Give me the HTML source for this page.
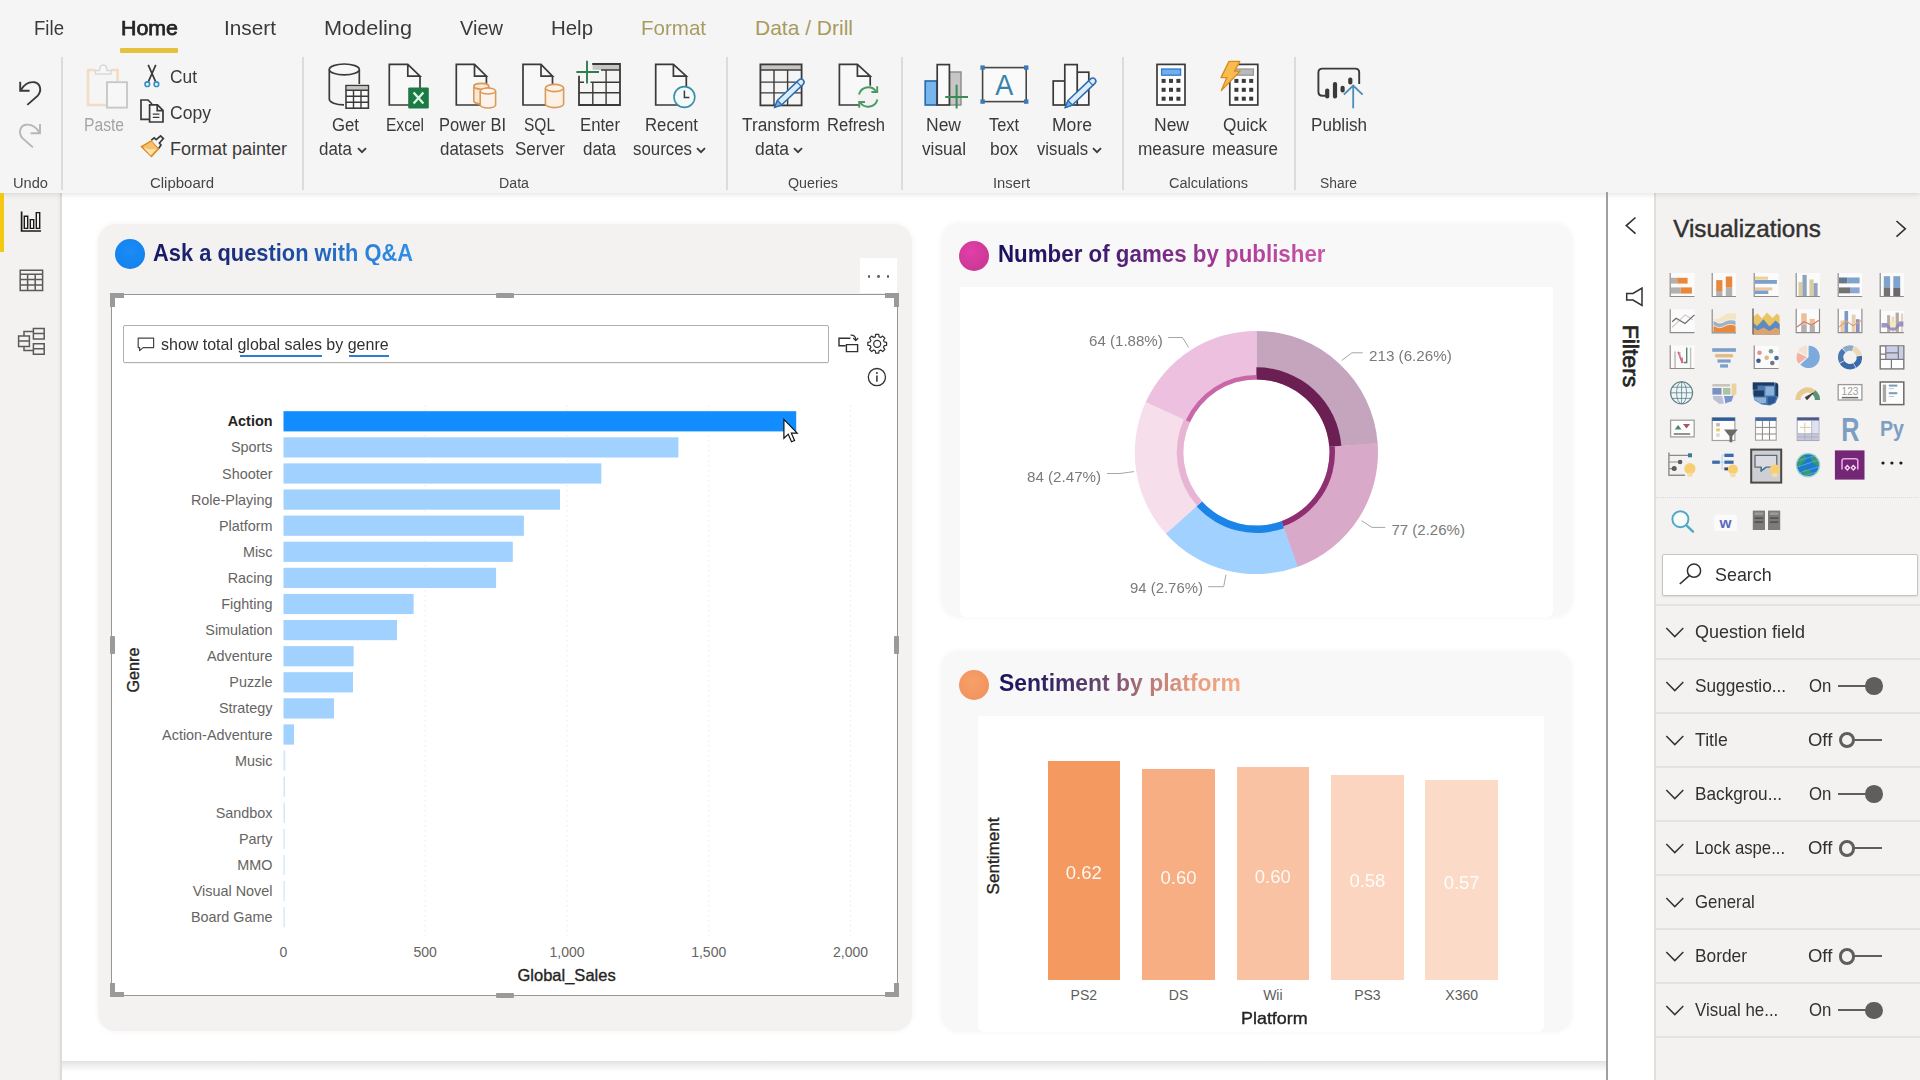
<!DOCTYPE html>
<html lang="en"><head><meta charset="utf-8"><title>Power BI Desktop</title>
<style>
html,body{margin:0;padding:0;}
body{width:1920px;height:1080px;position:relative;overflow:hidden;background:#f3f3f3;font-family:"Liberation Sans",sans-serif;}
body>div,body>svg,body>span{position:absolute;}
body>span{white-space:nowrap;line-height:1;transform-origin:0 0;}
svg{overflow:visible;}
</style></head>
<body>
<div style="left:0px;top:0px;width:1920px;height:1080px;background:#f3f3f3;"></div>
<div style="left:62px;top:193px;width:1545px;height:887px;background:#ffffff;"></div>
<div style="left:62px;top:1060.6px;width:1544px;height:11.6px;background:linear-gradient(180deg,#e1e1e1 0%,#ececec 30%,#f7f7f7 70%,#ffffff 100%);"></div>
<div style="left:0px;top:0px;width:1920px;height:193px;background:#f5f5f5;box-shadow:0 1px 6px rgba(0,0,0,0.13);z-index:5;"></div>
<div style="left:0px;top:193px;width:60.4px;height:887px;background:#f3f2f1;z-index:3;"></div>
<div style="left:57px;top:193px;width:3.4px;height:887px;background:linear-gradient(90deg,#f3f2f1,#ebeae9);z-index:3;"></div>
<div style="left:60.4px;top:193px;width:1.6px;height:887px;background:#dddcdb;z-index:3;"></div>
<div style="left:0px;top:193px;width:4px;height:59px;background:#f2c811;z-index:6;"></div>
<div style="left:120px;top:48px;width:58px;height:5px;background:#e6c23c;z-index:7;border-radius:1px;"></div>
<div style="left:61px;top:57px;width:1.5px;height:133px;background:#dcdcdc;z-index:7;"></div>
<div style="left:302px;top:57px;width:1.5px;height:133px;background:#dcdcdc;z-index:7;"></div>
<div style="left:726px;top:57px;width:1.5px;height:133px;background:#dcdcdc;z-index:7;"></div>
<div style="left:901px;top:57px;width:1.5px;height:133px;background:#dcdcdc;z-index:7;"></div>
<div style="left:1122px;top:57px;width:1.5px;height:133px;background:#dcdcdc;z-index:7;"></div>
<div style="left:1294px;top:57px;width:1.5px;height:133px;background:#dcdcdc;z-index:7;"></div>
<svg style="left:356.5px;top:146.5px;z-index:7;" width="10" height="7" viewBox="0 0 10 7"><path d="M1 1.2 L5 5.2 L9 1.2" fill="none" stroke="#3b3a39" stroke-width="1.8"/></svg>
<svg style="left:695.5px;top:146.5px;z-index:7;" width="10" height="7" viewBox="0 0 10 7"><path d="M1 1.2 L5 5.2 L9 1.2" fill="none" stroke="#3b3a39" stroke-width="1.8"/></svg>
<svg style="left:793px;top:146.5px;z-index:7;" width="10" height="7" viewBox="0 0 10 7"><path d="M1 1.2 L5 5.2 L9 1.2" fill="none" stroke="#3b3a39" stroke-width="1.8"/></svg>
<svg style="left:1092px;top:146.5px;z-index:7;" width="10" height="7" viewBox="0 0 10 7"><path d="M1 1.2 L5 5.2 L9 1.2" fill="none" stroke="#3b3a39" stroke-width="1.8"/></svg>
<div style="left:97.5px;top:224px;width:814px;height:807px;background:#f3f2f1;border-radius:18px;box-shadow:0 0 6px rgba(0,0,0,0.05);"></div>
<div style="left:941px;top:222.5px;width:632px;height:394px;background:#f8f8f8;border-radius:18px;box-shadow:0 0 6px rgba(0,0,0,0.04);"></div>
<div style="left:941px;top:650.5px;width:631px;height:381.5px;background:#f8f8f8;border-radius:18px;box-shadow:0 0 6px rgba(0,0,0,0.04);"></div>
<div style="left:959.5px;top:287px;width:593px;height:329.5px;background:#fff;border-radius:0 0 6px 6px;"></div>
<div style="left:977.5px;top:715.5px;width:566px;height:316.5px;background:#fff;border-radius:0 0 6px 6px;"></div>
<div style="left:114.5px;top:239.2px;width:30px;height:30px;border-radius:50%;background:radial-gradient(circle at 50% 40%,#1a8cf8,#117fe8);"></div>
<div style="left:959.2px;top:240.7px;width:30px;height:30px;border-radius:50%;background:radial-gradient(circle at 40% 35%,#e23fa8,#c2358f);"></div>
<div style="left:958.7px;top:669.5px;width:30px;height:30px;border-radius:50%;background:radial-gradient(circle at 45% 40%,#f9a06a,#ee8f58);"></div>
<div style="left:111.2px;top:294.2px;width:785px;height:699.5px;background:#fff;border:1.7px solid #969696;"></div>
<div style="left:110px;top:293px;width:14px;height:5px;background:#9a9a9a;"></div>
<div style="left:110px;top:293px;width:5px;height:14px;background:#9a9a9a;"></div>
<div style="left:885px;top:293px;width:14px;height:5px;background:#9a9a9a;"></div>
<div style="left:894px;top:293px;width:5px;height:14px;background:#9a9a9a;"></div>
<div style="left:110px;top:992px;width:14px;height:5px;background:#9a9a9a;"></div>
<div style="left:110px;top:983px;width:5px;height:14px;background:#9a9a9a;"></div>
<div style="left:885px;top:992px;width:14px;height:5px;background:#9a9a9a;"></div>
<div style="left:894px;top:983px;width:5px;height:14px;background:#9a9a9a;"></div>
<div style="left:495.5px;top:293px;width:18px;height:5px;background:#9a9a9a;border-radius:1px;"></div>
<div style="left:495.5px;top:992.5px;width:18px;height:5px;background:#9a9a9a;border-radius:1px;"></div>
<div style="left:109.5px;top:636px;width:5px;height:18px;background:#9a9a9a;border-radius:1px;"></div>
<div style="left:893.5px;top:636px;width:5px;height:18px;background:#9a9a9a;border-radius:1px;"></div>
<div style="left:860px;top:258.3px;width:36.6px;height:35px;background:#ffffff;"></div>
<div style="left:867.55px;top:274.75px;width:2.9px;height:2.9px;border-radius:50%;background:#605e5c;"></div>
<div style="left:877.05px;top:274.75px;width:2.9px;height:2.9px;border-radius:50%;background:#605e5c;"></div>
<div style="left:886.55px;top:274.75px;width:2.9px;height:2.9px;border-radius:50%;background:#605e5c;"></div>
<div style="left:122.5px;top:325px;width:704.5px;height:36px;background:#fff;border:1px solid #b3b0ad;border-radius:2px;box-shadow:0 1px 1px rgba(0,0,0,0.06);"></div>
<svg style="left:137px;top:337px;" width="18" height="15" viewBox="0 0 18 15"><path d="M1.2 1.2 H16.6 V10.6 H6.2 L2.6 13.6 V10.6 H1.2 Z" fill="none" stroke="#444" stroke-width="1.2" stroke-linejoin="round"/></svg>
<div style="left:239.5px;top:355.2px;width:82.5px;height:2.2px;background:#2b7cd3;"></div>
<div style="left:348.7px;top:355.2px;width:40px;height:2.2px;background:#2b7cd3;"></div>
<svg style="left:0px;top:0px;pointer-events:none;" width="1000" height="1000" viewBox="0 0 1000 1000"><line x1="425.2" y1="405" x2="425.2" y2="936" stroke="#e9e9e9" stroke-width="1" stroke-dasharray="1.5 3.5"/><line x1="567" y1="405" x2="567" y2="936" stroke="#e9e9e9" stroke-width="1" stroke-dasharray="1.5 3.5"/><line x1="708.7" y1="405" x2="708.7" y2="936" stroke="#e9e9e9" stroke-width="1" stroke-dasharray="1.5 3.5"/><line x1="850.5" y1="405" x2="850.5" y2="936" stroke="#e9e9e9" stroke-width="1" stroke-dasharray="1.5 3.5"/><rect x="283.5" y="411.2" width="512.7" height="20.2" fill="#118dff"/><rect x="283.5" y="437.3" width="394.9" height="20.2" fill="#a0d1ff"/><rect x="283.5" y="463.4" width="317.8" height="20.2" fill="#a0d1ff"/><rect x="283.5" y="489.5" width="276.5" height="20.2" fill="#a0d1ff"/><rect x="283.5" y="515.6" width="240.4" height="20.2" fill="#a0d1ff"/><rect x="283.5" y="541.7" width="229.3" height="20.2" fill="#a0d1ff"/><rect x="283.5" y="567.8" width="212.6" height="20.2" fill="#a0d1ff"/><rect x="283.5" y="593.9" width="130.1" height="20.2" fill="#a0d1ff"/><rect x="283.5" y="620.0" width="113.5" height="20.2" fill="#a0d1ff"/><rect x="283.5" y="646.1" width="70.1" height="20.2" fill="#a0d1ff"/><rect x="283.5" y="672.2" width="69.5" height="20.2" fill="#a0d1ff"/><rect x="283.5" y="698.3" width="50.5" height="20.2" fill="#a0d1ff"/><rect x="283.5" y="724.4" width="10.5" height="20.2" fill="#a0d1ff"/><rect x="283.5" y="750.5" width="1.8" height="20.2" fill="#cfe6fb"/><rect x="283.5" y="776.6" width="1.5" height="20.2" fill="#cfe6fb"/><rect x="283.5" y="802.7" width="1.4" height="20.2" fill="#cfe6fb"/><rect x="283.5" y="828.8" width="1.3" height="20.2" fill="#cfe6fb"/><rect x="283.5" y="854.9" width="1.3" height="20.2" fill="#cfe6fb"/><rect x="283.5" y="881.0" width="1.3" height="20.2" fill="#cfe6fb"/><rect x="283.5" y="907.1" width="1.3" height="20.2" fill="#cfe6fb"/></svg>
<svg style="left:0px;top:0px;z-index:7;" width="1920" height="193" viewBox="0 0 1920 193"><path d="M20.2 81.8 V90.8 H29.6 M20.6 90.4 C24 84.5 29.5 81.6 34.5 82.3 C40.5 83.6 42 90.5 37.8 95.6 L27.3 104.9" fill="none" stroke="#3b3a39" stroke-width="1.9" stroke-linejoin="miter"/><path d="M40 124 V133.3 H30.6 M39.6 132.9 C36.2 127 30.7 124.1 25.7 124.8 C19.7 126.1 18.2 133 22.4 138.1 L32.9 147.4" fill="none" stroke="#b8b6b4" stroke-width="1.9" /><path d="M95.5 70 H88 V105 H106" fill="none" stroke="#f3dcc4" stroke-width="2.6" /><path d="M111 70 H117.6 V81" fill="none" stroke="#f3dcc4" stroke-width="2.6" /><path d="M95.5 74 V70.5 H99.5 C99.5 66.5 101 65 103.3 65 C105.6 65 107 66.5 107 70.5 H111 V74 Z" fill="#f7f7f7" stroke="#d9d9d9" stroke-width="1.5" /><rect x="107" y="82.2" width="20" height="25.4" rx="0" fill="#f7f7f7" stroke="#c6c6c6" stroke-width="1.8"/><path d="M148.2 64.8 L155.6 81.6 M155.8 64.8 L148.4 81.6" fill="none" stroke="#3b3a39" stroke-width="1.7" /><circle cx="147.3" cy="84.2" r="2.3" fill="none" stroke="#2f8fc4" stroke-width="1.6"/><circle cx="156.4" cy="84.2" r="2.3" fill="none" stroke="#2f8fc4" stroke-width="1.6"/><path d="M149 119.3 H141 V100 H148 L152 104" fill="none" stroke="#3b3a39" stroke-width="1.7" /><path d="M149.6 104.8 H157.5 L163 110.3 V122 H149.6 Z M157.2 105 V110.6 H162.8" fill="#f6f6f6" stroke="#3b3a39" stroke-width="1.7" /><path d="M152.8 114.2 H159.4 M152.8 117.4 H159.4" fill="none" stroke="#3b3a39" stroke-width="1.3" /><path d="M141.5 146.6 L151.8 140.6 L158.6 148.8 L151.5 156.5 Z" fill="#f8c06a" stroke="#d98b1e" stroke-width="1.5" /><path d="M143.5 147.6 L150.5 155.2 L156.6 148.6 C152 150.5 148 149.5 143.5 147.6 Z" fill="#fbe3b8" stroke="none" stroke-width="0" /><path d="M151.4 140.2 L154.2 137.8 L156.2 139.6 L160.6 135.8 L163.4 138.6 L159.4 143 L161 145 L158.8 148.2" fill="#f6f6f6" stroke="#3b3a39" stroke-width="1.7" /><path d="M329.3 69.4 V99 C329.3 102.4 336 104.8 344 104.8 M359.3 69.4 V84" fill="none" stroke="#3b3a39" stroke-width="1.7" /><ellipse cx="344.3" cy="69.4" rx="15" ry="5.4" fill="#f7f7f7" stroke="#3b3a39" stroke-width="1.7"/><rect x="346" y="85.6" width="22.4" height="22.6" rx="0" fill="#fafafa" stroke="#3b3a39" stroke-width="1.6"/><rect x="346.8" y="86.4" width="20.8" height="3.4" fill="#c8c6c4"/><path d="M346 90.2 H368.4 M346 96.2 H368.4 M346 102.2 H368.4 M353.5 90.2 V108.2 M361 90.2 V108.2" fill="none" stroke="#3b3a39" stroke-width="1.4" /><path d="M420 76.2 V105 H389.3 V64.4 H407.8 L420 76.2 H407.8 V64.4" fill="#f8f8f8" stroke="#3b3a39" stroke-width="1.7" stroke-linejoin="miter"/><rect x="408.2" y="87.4" width="20.6" height="21" rx="1.2" fill="#1d7a45"/><path d="M413.6 92.6 L423.4 103.6 M423.4 92.6 L413.6 103.6" fill="none" stroke="#d9f7e6" stroke-width="2.3" /><path d="M486.4 76.2 V105 H456.3 V64.4 H474.5 L486.4 76.2 H474.5 V64.4" fill="#f8f8f8" stroke="#3b3a39" stroke-width="1.7" stroke-linejoin="miter"/><path d="M473.8 86.3 V101 A7.5 2.9 0 0 0 488.8 101 V86.3" fill="#fbe6d2" stroke="#d99a5b" stroke-width="1.6" /><ellipse cx="481.3" cy="86.3" rx="7.5" ry="2.9" fill="#fbe6d2" stroke="#d99a5b" stroke-width="1.6"/><path d="M480.2 91 V105 A7.700000000000017 3 0 0 0 495.6 105 V91" fill="#fdf3ea" stroke="#d99a5b" stroke-width="1.6" /><ellipse cx="487.9" cy="91" rx="7.700000000000017" ry="3" fill="#fdf3ea" stroke="#d99a5b" stroke-width="1.6"/><path d="M552.5 76.2 V105 H523 V64.4 H541 L552.5 76.2 H541 V64.4" fill="#f8f8f8" stroke="#3b3a39" stroke-width="1.7" stroke-linejoin="miter"/><path d="M545.4 88 V104 A9.100000000000023 3.6 0 0 0 563.6 104 V88" fill="#fdf1e6" stroke="#d99a5b" stroke-width="1.6" /><ellipse cx="554.5" cy="88" rx="9.100000000000023" ry="3.6" fill="#fdf1e6" stroke="#d99a5b" stroke-width="1.6"/><rect x="592.6" y="64.6" width="26.8" height="5.2" fill="#c8c6c4"/><path d="M592.2 64 H620 V105 H579 V75.8" fill="none" stroke="#3b3a39" stroke-width="1.8" /><path d="M601 70 H620" fill="none" stroke="#3b3a39" stroke-width="1.5" /><path d="M579 82.2 H584 M590.5 82.2 H620 M579 92.8 H620 M592.8 82.2 V105 M606.1 70 V105" fill="none" stroke="#3b3a39" stroke-width="1.4" /><path d="M587 60.8 V83.4 M576.4 72 H599" fill="none" stroke="#2e7d4f" stroke-width="1.9" /><path d="M686.3 76.2 V105 H655.7 V64.4 H673.4 L686.3 76.2 H673.4 V64.4" fill="#f8f8f8" stroke="#3b3a39" stroke-width="1.7" stroke-linejoin="miter"/><circle cx="684.4" cy="97" r="10.4" fill="#f4fafc" stroke="#3a8fa8" stroke-width="1.6"/><path d="M684.4 90.4 V97.6 H689.4" fill="none" stroke="#3b3a39" stroke-width="1.5" /><rect x="761" y="65" width="40" height="4.6" fill="#c8c6c4"/><rect x="760.4" y="64.4" width="41.2" height="41" rx="0" fill="none" stroke="#3b3a39" stroke-width="1.8"/><path d="M760.4 70 H801.6 M760.4 82.1 H801.6 M760.4 92.9 H801.6 M774 70 V105.4 M787.6 70 V105.4" fill="none" stroke="#3b3a39" stroke-width="1.4" /><path d="M774.6 107.4 L781.8 104.8 L802.9 84.6 Q805.3 82.3 803.2 80.0 Q801.0 77.8 798.7 80.1 L777.5 100.3 Z" fill="#dcecfb" stroke="#2b6cb0" stroke-width="1.5" stroke-linejoin="round"/><path d="M774.6 107.4 L781.8 104.8 L777.5 100.3 Z" fill="#6fb1ee" stroke="#2b6cb0" stroke-width="1.2" /><path d="M801.1 86.3 L796.8 81.8" fill="none" stroke="#2b6cb0" stroke-width="1.2" /><path d="M870.2 76.2 V105 H839.4 V64.4 H857.4 L870.2 76.2 H857.4 V64.4" fill="#f8f8f8" stroke="#3b3a39" stroke-width="1.7" stroke-linejoin="miter"/><circle cx="868.2" cy="97" r="11.6" fill="#f3f3f3" stroke="none"/><path d="M859 94.6 A9.6 9.6 0 0 1 876 91.2 M877.4 99.4 A9.6 9.6 0 0 1 860.4 102.8" fill="none" stroke="#4a9a64" stroke-width="1.9" /><path d="M877.2 86.2 V92 H871.4 M859.2 107.8 V102 H865" fill="none" stroke="#4a9a64" stroke-width="1.9" /><rect x="925.2" y="81" width="11.6" height="24" rx="0" fill="#7ab6ee" stroke="#2b6cb0" stroke-width="1.7"/><rect x="949.6" y="72" width="11.4" height="33" rx="0" fill="#c6c6c6" stroke="#8a8a8a" stroke-width="1.4"/><rect x="937.2" y="64.6" width="12.2" height="40.4" rx="0" fill="#fafafa" stroke="#3b3a39" stroke-width="1.7"/><path d="M956.6 84.8 V108.6 M945.2 97 H968" fill="none" stroke="#3c8a54" stroke-width="2" /><rect x="982.6" y="67.6" width="43.6" height="34" rx="0" fill="#fafafa" stroke="#484644" stroke-width="1.6"/><rect x="980.4" y="65.39999999999999" width="4.4" height="4.4" fill="#3b79b7"/><rect x="1024.0" y="65.39999999999999" width="4.4" height="4.4" fill="#3b79b7"/><rect x="980.4" y="99.39999999999999" width="4.4" height="4.4" fill="#3b79b7"/><rect x="1024.0" y="99.39999999999999" width="4.4" height="4.4" fill="#3b79b7"/><text x="1004.2" y="94.6" text-anchor="middle" font-family="Liberation Sans, sans-serif" font-size="29" fill="#3a82aa" textLength="18" lengthAdjust="spacingAndGlyphs">A</text><rect x="1053.2" y="81" width="11.6" height="24" rx="0" fill="#fafafa" stroke="#3b3a39" stroke-width="1.7"/><rect x="1077.2" y="72.2" width="11.6" height="32.8" rx="0" fill="#fafafa" stroke="#3b3a39" stroke-width="1.7"/><rect x="1064.8" y="64.6" width="12.4" height="40.4" rx="0" fill="#fafafa" stroke="#3b3a39" stroke-width="1.7"/><path d="M1065.2 107.6 L1072.4 105.0 L1094.7 83.6 Q1097.1 81.3 1095.0 79.0 Q1092.8 76.8 1090.4 79.1 L1068.1 100.5 Z" fill="#dcecfb" stroke="#2b6cb0" stroke-width="1.5" stroke-linejoin="round"/><path d="M1065.2 107.6 L1072.4 105.0 L1068.1 100.5 Z" fill="#6fb1ee" stroke="#2b6cb0" stroke-width="1.2" /><path d="M1092.9 85.3 L1088.6 80.8" fill="none" stroke="#2b6cb0" stroke-width="1.2" /><rect x="1157" y="64.4" width="28" height="40.6" rx="0" fill="#fdfdfd" stroke="#3b3a39" stroke-width="1.7"/><rect x="1161.6" y="69" width="19" height="6.2" rx="0" fill="#74aeea" stroke="#2b7cd3" stroke-width="1.3"/><rect x="1161.6" y="78.9" width="4" height="4" fill="#3b3a39"/><rect x="1161.6" y="87.8" width="4" height="4" fill="#3b3a39"/><rect x="1161.6" y="96.7" width="4" height="4" fill="#3b3a39"/><rect x="1169" y="78.9" width="4" height="4" fill="#3b3a39"/><rect x="1169" y="87.8" width="4" height="4" fill="#3b3a39"/><rect x="1169" y="96.7" width="4" height="4" fill="#3b3a39"/><rect x="1176.4" y="78.9" width="4" height="4" fill="#3b3a39"/><rect x="1176.4" y="87.8" width="4" height="4" fill="#3b3a39"/><rect x="1176.4" y="96.7" width="4" height="4" fill="#3b3a39"/><rect x="1229.8" y="64.4" width="28" height="40.6" rx="0" fill="#fdfdfd" stroke="#3b3a39" stroke-width="1.7"/><rect x="1234.3999999999999" y="69" width="19" height="6.2" rx="0" fill="#b9b9b9" stroke="#9a9a9a" stroke-width="1.3"/><rect x="1234.3999999999999" y="78.9" width="4" height="4" fill="#3b3a39"/><rect x="1234.3999999999999" y="87.8" width="4" height="4" fill="#3b3a39"/><rect x="1234.3999999999999" y="96.7" width="4" height="4" fill="#3b3a39"/><rect x="1241.8" y="78.9" width="4" height="4" fill="#3b3a39"/><rect x="1241.8" y="87.8" width="4" height="4" fill="#3b3a39"/><rect x="1241.8" y="96.7" width="4" height="4" fill="#3b3a39"/><rect x="1249.2" y="78.9" width="4" height="4" fill="#3b3a39"/><rect x="1249.2" y="87.8" width="4" height="4" fill="#3b3a39"/><rect x="1249.2" y="96.7" width="4" height="4" fill="#3b3a39"/><path d="M1229 61.4 H1239.8 L1234.5 71.2 H1240 L1221.3 90.6 L1226.9 77.6 H1221 Z" fill="#f8bc4e" stroke="#d98b1e" stroke-width="1.3" stroke-linejoin="round"/><path d="M1325.4 95.8 H1322.4 Q1318.4 95.8 1318.4 91.8 V72.6 Q1318.4 68.6 1322.4 68.6 H1355.2 Q1359.2 68.6 1359.2 72.6 V84" fill="none" stroke="#3b3a39" stroke-width="1.9" /><rect x="1325.1000000000001" y="88.4" width="4.2" height="10.199999999999989" rx="2" fill="#3b3a39"/><rect x="1332.9" y="82" width="4.2" height="16.599999999999994" rx="2" fill="#3b3a39"/><rect x="1340.5" y="85.8" width="4.2" height="6.799999999999997" rx="2" fill="#3b3a39"/><rect x="1348.2" y="77.6" width="4.2" height="7.0" rx="2" fill="#3b3a39"/><path d="M1353.2 86.4 V108.2 M1343.8 94.6 L1353.2 85.6 L1362.6 94.6" fill="none" stroke="#4a8cba" stroke-width="1.8" /></svg>
<svg style="left:0px;top:0px;pointer-events:none;" width="1920" height="1080" viewBox="0 0 1920 1080"><path d="M1256.40 330.90 A121.6 121.6 0 0 1 1377.67 443.49 L1329.30 447.08 A73.1 73.1 0 0 0 1256.40 379.40 Z" fill="#c5a4bd"/><path d="M1377.63 442.96 A121.6 121.6 0 0 1 1297.49 566.95 L1281.10 521.30 A73.1 73.1 0 0 0 1329.27 446.76 Z" fill="#d9a9c9"/><path d="M1297.99 566.77 A121.6 121.6 0 0 1 1165.68 533.47 L1201.86 501.18 A73.1 73.1 0 0 0 1281.40 521.19 Z" fill="#a0d1ff"/><path d="M1166.03 533.87 A121.6 121.6 0 0 1 1145.97 401.59 L1190.01 421.90 A73.1 73.1 0 0 0 1202.08 501.41 Z" fill="#f6deeb"/><path d="M1145.75 402.07 A121.6 121.6 0 0 1 1256.40 330.90 L1256.40 379.40 A73.1 73.1 0 0 0 1189.88 422.19 Z" fill="#ecc0de"/><path d="M1256.40 367.30 A85.2 85.2 0 0 1 1341.34 445.82 L1329.27 446.76 A73.1 73.1 0 0 0 1256.40 379.40 Z" fill="#6b1f52"/><path d="M1334.76 446.33 A78.6 78.6 0 0 1 1283.28 526.36 L1281.40 521.19 A73.1 73.1 0 0 0 1329.27 446.76 Z" fill="#8f2f72"/><path d="M1283.93 528.15 A80.5 80.5 0 0 1 1196.58 506.37 L1202.08 501.41 A73.1 73.1 0 0 0 1281.40 521.19 Z" fill="#1a84e8"/><path d="M1197.17 505.83 A79.7 79.7 0 0 1 1183.88 419.45 L1189.88 422.19 A73.1 73.1 0 0 0 1202.08 501.41 Z" fill="#e8b4d4"/><path d="M1185.79 420.32 A77.6 77.6 0 0 1 1256.40 374.90 L1256.40 379.40 A73.1 73.1 0 0 0 1189.88 422.19 Z" fill="#c968a8"/><polyline points="1168,337.5 1182.5,337.5 1188.7,347.5" fill="none" stroke="#a6a6a6" stroke-width="1"/><polyline points="1341.7,360.5 1351.9,352.8 1362.8,352.8" fill="none" stroke="#a6a6a6" stroke-width="1"/><polyline points="1361.5,520.7 1371.9,527.4 1385.2,527.4" fill="none" stroke="#a6a6a6" stroke-width="1"/><polyline points="1208.1,586.7 1223.7,586.7 1225.9,574.8" fill="none" stroke="#a6a6a6" stroke-width="1"/><polyline points="1107,473.5 1120,473.5 1134,471.6" fill="none" stroke="#a6a6a6" stroke-width="1"/></svg>
<div style="left:1047.7px;top:760.5px;width:72.3px;height:219.7px;background:#f4995f;"></div>
<div style="left:1142.2px;top:768.7px;width:72.8px;height:211.5px;background:#f7ae82;"></div>
<div style="left:1236.7px;top:767px;width:72.3px;height:213.2px;background:#f9c2a2;"></div>
<div style="left:1331.2px;top:774.8px;width:72.4px;height:205.4px;background:#fbd5bf;"></div>
<div style="left:1425.3px;top:779.7px;width:72.7px;height:200.5px;background:#fbdac8;"></div>
<div style="left:1607.5px;top:193px;width:47px;height:887px;background:#ffffff;"></div>
<div style="left:1606.2px;top:192px;width:1.7px;height:888px;background:#a19f9d;z-index:6;"></div>
<div style="left:1654.5px;top:193px;width:265.5px;height:887px;background:#f3f2f1;"></div>
<div style="left:1654.2px;top:193px;width:1.7px;height:887px;background:#e1dfdd;"></div>
<svg style="left:1620px;top:212px;" width="24" height="28" viewBox="0 0 24 28"><path d="M15.5 5.5 L6.3 13.6 L15.5 21.7" fill="none" stroke="#323130" stroke-width="1.6"/></svg>
<svg style="left:1890px;top:214px;" width="24" height="28" viewBox="0 0 24 28"><path d="M6.5 7 L15.3 14.8 L6.5 22.6" fill="none" stroke="#323130" stroke-width="1.6"/></svg>
<svg style="left:1622px;top:284px;" width="26" height="26" viewBox="0 0 26 26"><path d="M20 4 V21.5 L11 16 H4.7 V9.5 H11 Z" fill="none" stroke="#323130" stroke-width="1.5" stroke-linejoin="miter"/></svg>
<div style="left:1656px;top:497.3px;width:262px;height:0;border-top:1.6px dotted #dcdad8;"></div>
<div style="left:1661.5px;top:553.7px;width:256px;height:42px;background:#fff;border:1px solid #c8c6c4;box-sizing:border-box;border-radius:2px;box-shadow:0 1px 2px rgba(0,0,0,0.10);"></div>
<svg style="left:1676px;top:560px;" width="26" height="28" viewBox="0 0 26 28"><circle cx="18" cy="10.7" r="6.6" fill="none" stroke="#323130" stroke-width="1.5"/><path d="M13.3 15.6 L3.8 24" stroke="#323130" stroke-width="1.6" fill="none"/></svg>
<div style="left:1656px;top:603.6px;width:264px;height:2.2px;background:#e5e3e1;"></div>
<div style="left:1656px;top:657.6px;width:264px;height:2.2px;background:#e5e3e1;"></div>
<div style="left:1656px;top:711.6px;width:264px;height:2.2px;background:#e5e3e1;"></div>
<div style="left:1656px;top:765.6px;width:264px;height:2.2px;background:#e5e3e1;"></div>
<div style="left:1656px;top:819.6px;width:264px;height:2.2px;background:#e5e3e1;"></div>
<div style="left:1656px;top:873.6px;width:264px;height:2.2px;background:#e5e3e1;"></div>
<div style="left:1656px;top:927.6px;width:264px;height:2.2px;background:#e5e3e1;"></div>
<div style="left:1656px;top:981.6px;width:264px;height:2.2px;background:#e5e3e1;"></div>
<div style="left:1656px;top:1035.6px;width:264px;height:2.2px;background:#e5e3e1;"></div>
<svg style="left:1664px;top:624.0px;" width="22" height="16" viewBox="0 0 22 16"><path d="M2.3 4 L10.8 12.6 L19.3 4" fill="none" stroke="#323130" stroke-width="1.45"/></svg>
<svg style="left:1664px;top:678.05px;" width="22" height="16" viewBox="0 0 22 16"><path d="M2.3 4 L10.8 12.6 L19.3 4" fill="none" stroke="#323130" stroke-width="1.45"/></svg>
<div style="left:1838.4px;top:684.9499999999999px;width:30px;height:2.2px;background:#605e5c;"></div>
<div style="left:1865.0px;top:677.25px;width:17.6px;height:17.6px;border-radius:50%;background:#605e5c;"></div>
<svg style="left:1664px;top:732.1px;" width="22" height="16" viewBox="0 0 22 16"><path d="M2.3 4 L10.8 12.6 L19.3 4" fill="none" stroke="#323130" stroke-width="1.45"/></svg>
<div style="left:1854px;top:739.0px;width:28.4px;height:2.2px;background:#605e5c;"></div>
<div style="left:1838.5px;top:731.7px;width:16.8px;height:16.8px;box-sizing:border-box;border-radius:50%;border:3px solid #605e5c;"></div>
<svg style="left:1664px;top:786.15px;" width="22" height="16" viewBox="0 0 22 16"><path d="M2.3 4 L10.8 12.6 L19.3 4" fill="none" stroke="#323130" stroke-width="1.45"/></svg>
<div style="left:1838.4px;top:793.05px;width:30px;height:2.2px;background:#605e5c;"></div>
<div style="left:1865.0px;top:785.35px;width:17.6px;height:17.6px;border-radius:50%;background:#605e5c;"></div>
<svg style="left:1664px;top:840.2px;" width="22" height="16" viewBox="0 0 22 16"><path d="M2.3 4 L10.8 12.6 L19.3 4" fill="none" stroke="#323130" stroke-width="1.45"/></svg>
<div style="left:1854px;top:847.1px;width:28.4px;height:2.2px;background:#605e5c;"></div>
<div style="left:1838.5px;top:839.8000000000001px;width:16.8px;height:16.8px;box-sizing:border-box;border-radius:50%;border:3px solid #605e5c;"></div>
<svg style="left:1664px;top:894.25px;" width="22" height="16" viewBox="0 0 22 16"><path d="M2.3 4 L10.8 12.6 L19.3 4" fill="none" stroke="#323130" stroke-width="1.45"/></svg>
<svg style="left:1664px;top:948.3px;" width="22" height="16" viewBox="0 0 22 16"><path d="M2.3 4 L10.8 12.6 L19.3 4" fill="none" stroke="#323130" stroke-width="1.45"/></svg>
<div style="left:1854px;top:955.1999999999999px;width:28.4px;height:2.2px;background:#605e5c;"></div>
<div style="left:1838.5px;top:947.9px;width:16.8px;height:16.8px;box-sizing:border-box;border-radius:50%;border:3px solid #605e5c;"></div>
<svg style="left:1664px;top:1002.3499999999999px;" width="22" height="16" viewBox="0 0 22 16"><path d="M2.3 4 L10.8 12.6 L19.3 4" fill="none" stroke="#323130" stroke-width="1.45"/></svg>
<div style="left:1838.4px;top:1009.2499999999999px;width:30px;height:2.2px;background:#605e5c;"></div>
<div style="left:1865.0px;top:1001.55px;width:17.6px;height:17.6px;border-radius:50%;background:#605e5c;"></div>
<svg style="left:0px;top:193px;z-index:6;" width="62" height="200" viewBox="0 193 62 200"><path d="M21.6 211.6 V231 H41" fill="none" stroke="#1b1a19" stroke-width="1.7" /><path d="M24.3 228.4 V216.2 H27.7 V228.4 Z" fill="none" stroke="#1b1a19" stroke-width="1.4" /><path d="M30.3 228.4 V219.6 H33.7 V228.4 Z" fill="none" stroke="#1b1a19" stroke-width="1.4" /><path d="M36.3 228.4 V212.6 H39.699999999999996 V228.4 Z" fill="none" stroke="#1b1a19" stroke-width="1.4" /><path d="M20.2 270.2 H42.6 V290.6 H20.2 Z M20.2 274.2 H42.6 M20.2 279.6 H42.6 M20.2 285 H42.6 M27.6 274.2 V290.6 M35.2 274.2 V290.6" fill="none" stroke="#5c5a58" stroke-width="1.5" /><path d="M18.6 336 H29.4 V346.4 H18.6 Z M18.6 341 H29.4 M33.4 328.6 H44.2 V339 H33.4 Z M33.4 333.6 H44.2 M33.4 343.8 H44.2 V354.2 H33.4 Z M33.4 348.8 H44.2 M24 336 V331.6 H33.4 M24 346.4 V350.6 H33.4" fill="none" stroke="#5c5a58" stroke-width="1.5" /></svg>
<svg style="left:0px;top:0px;" width="1000" height="500" viewBox="0 0 1000 500"><path d="M850.4 338.2 H839 V345.8 H845.6" fill="none" stroke="#323130" stroke-width="1.4" /><path d="M846.4 344.6 H857.6 V351.6 H846.4 Z" fill="none" stroke="#323130" stroke-width="1.4" /><path d="M850.6 335.2 C854 335 855.8 336.6 855.8 340 M853.2 338 L855.8 340.6 L858.2 338" fill="none" stroke="#323130" stroke-width="1.2" /><path d="M875.28 336.86 L875.69 334.42 L878.71 334.42 L879.12 336.86 L880.75 337.54 L882.76 336.10 L884.90 338.24 L883.46 340.25 L884.14 341.88 L886.58 342.29 L886.58 345.31 L884.14 345.72 L883.46 347.35 L884.90 349.36 L882.76 351.50 L880.75 350.06 L879.12 350.74 L878.71 353.18 L875.69 353.18 L875.28 350.74 L873.65 350.06 L871.64 351.50 L869.50 349.36 L870.94 347.35 L870.26 345.72 L867.82 345.31 L867.82 342.29 L870.26 341.88 L870.94 340.25 L869.50 338.24 L871.64 336.10 L873.65 337.54 Z" fill="none" stroke="#323130" stroke-width="1.25" stroke-linejoin="round"/><circle cx="877.2" cy="343.8" r="3.5" fill="none" stroke="#323130" stroke-width="1.25"/><circle cx="876.9" cy="377.1" r="8.6" fill="none" stroke="#323130" stroke-width="1.3"/><path d="M876.9 375.6 V381.8" fill="none" stroke="#323130" stroke-width="1.5" /><circle cx="876.9" cy="373" r="0.95" fill="#323130"/></svg>
<svg style="left:0px;top:0px;z-index:4;" width="1000" height="500" viewBox="0 0 1000 500"><path d="M783.90 419.40 L783.90 438.27 L788.23 434.16 L791.56 441.82 L794.56 440.49 L791.34 433.16 L797.22 433.16 Z" fill="#fff" stroke="#111" stroke-width="1.2" stroke-linejoin="miter"/></svg>
<svg style="left:0px;top:0px;pointer-events:none;" width="1920" height="1080" viewBox="0 0 1920 1080"><rect x="1671.0" y="273.0" width="23.5" height="23.0" rx="0" fill="#fbfbfb" stroke="none" stroke-width="0" /><rect x="1671.0" y="277.8" width="6.2" height="5.8" rx="0" fill="#b3b1af" stroke="none" stroke-width="0" /><rect x="1677.2" y="277.8" width="10.4" height="5.8" rx="0" fill="#e8883c" stroke="none" stroke-width="0" /><rect x="1671.0" y="287.4" width="9.8" height="6.2" rx="0" fill="#b3b1af" stroke="none" stroke-width="0" /><rect x="1680.8" y="287.4" width="11.1" height="6.2" rx="0" fill="#e8883c" stroke="none" stroke-width="0" /><path d="M1670.2 272.9 V296.5 H1694.5" fill="none" stroke="#8d8b89" stroke-width="1.15" /><rect x="1713.0" y="273.0" width="23.0" height="23.0" rx="0" fill="#fbfbfb" stroke="none" stroke-width="0" /><rect x="1716.2" y="280.1" width="6.2" height="10.9" rx="0" fill="#e8883c" stroke="none" stroke-width="0" /><rect x="1716.2" y="291.0" width="6.2" height="5.0" rx="0" fill="#b3b1af" stroke="none" stroke-width="0" /><rect x="1725.8" y="276.5" width="6.4" height="11.2" rx="0" fill="#e8883c" stroke="none" stroke-width="0" /><rect x="1725.8" y="287.7" width="6.4" height="8.3" rx="0" fill="#b3b1af" stroke="none" stroke-width="0" /><path d="M1712.2 272.9 V296.5 H1735.9" fill="none" stroke="#8d8b89" stroke-width="1.15" /><rect x="1755.0" y="273.0" width="23.5" height="23.0" rx="0" fill="#fbfbfb" stroke="none" stroke-width="0" /><rect x="1755.0" y="276.6" width="13.0" height="3.2" rx="0" fill="#ecd29a" stroke="none" stroke-width="0" /><rect x="1755.0" y="280.0" width="21.9" height="3.8" rx="0" fill="#7c9fcb" stroke="none" stroke-width="0" /><rect x="1755.0" y="287.4" width="17.3" height="3.0" rx="0" fill="#ecc79a" stroke="none" stroke-width="0" /><rect x="1755.0" y="290.5" width="13.3" height="3.5" rx="0" fill="#7c9fcb" stroke="none" stroke-width="0" /><path d="M1754.2 272.9 V296.5 H1778.5" fill="none" stroke="#8d8b89" stroke-width="1.15" /><rect x="1797.0" y="273.0" width="23.0" height="23.0" rx="0" fill="#fbfbfb" stroke="none" stroke-width="0" /><rect x="1798.5" y="282.1" width="4.0" height="13.9" rx="0" fill="#dccaa2" stroke="none" stroke-width="0" /><rect x="1802.5" y="274.9" width="4.2" height="21.1" rx="0" fill="#8da3ba" stroke="none" stroke-width="0" /><rect x="1809.4" y="279.5" width="4.2" height="16.5" rx="0" fill="#dccaa2" stroke="none" stroke-width="0" /><rect x="1813.6" y="283.1" width="4.0" height="12.9" rx="0" fill="#97a3bb" stroke="none" stroke-width="0" /><path d="M1796.2 272.9 V296.5 H1819.9" fill="none" stroke="#8d8b89" stroke-width="1.15" /><rect x="1839.0" y="273.0" width="23.0" height="23.0" rx="0" fill="#fbfbfb" stroke="none" stroke-width="0" /><rect x="1839.0" y="277.5" width="8.1" height="5.9" rx="0" fill="#66788a" stroke="none" stroke-width="0" /><rect x="1847.1" y="277.5" width="12.5" height="5.9" rx="0" fill="#7ea4cc" stroke="none" stroke-width="0" /><rect x="1839.0" y="287.4" width="11.0" height="5.9" rx="0" fill="#727272" stroke="none" stroke-width="0" /><rect x="1850.0" y="287.4" width="9.6" height="5.9" rx="0" fill="#8ea4d2" stroke="none" stroke-width="0" /><path d="M1838.2 272.9 V296.5 H1862.2" fill="none" stroke="#8d8b89" stroke-width="1.15" /><rect x="1881.0" y="273.0" width="23.0" height="23.0" rx="0" fill="#fbfbfb" stroke="none" stroke-width="0" /><rect x="1883.8" y="276.2" width="6.3" height="11.2" rx="0" fill="#7ea4cc" stroke="none" stroke-width="0" /><rect x="1883.8" y="287.4" width="6.3" height="8.6" rx="0" fill="#727272" stroke="none" stroke-width="0" /><rect x="1893.3" y="276.2" width="6.9" height="11.8" rx="0" fill="#7ea4cc" stroke="none" stroke-width="0" /><rect x="1893.3" y="288.0" width="6.9" height="8.0" rx="0" fill="#6c6870" stroke="none" stroke-width="0" /><path d="M1880.2 272.9 V296.5 H1903.8" fill="none" stroke="#8d8b89" stroke-width="1.15" /><rect x="1671.0" y="309.5" width="23.5" height="22.5" rx="0" fill="#fbfbfb" stroke="none" stroke-width="0" /><path d="M1672.2 327.4 L1685 314.9 L1692.9 319.8" fill="none" stroke="#cbc5cb" stroke-width="1.1" /><path d="M1672.2 321.8 L1676.1 318.2 L1685 323.4 L1694.5 314.9" fill="none" stroke="#6b6969" stroke-width="1.2" /><path d="M1670.2 309.3 V332.6 H1694.5" fill="none" stroke="#8d8b89" stroke-width="1.15" /><path d="M1713 319.2 C1718 321 1722 316 1727.6 313.3 H1736 V332.6 H1713 Z" fill="#f3e6c4" stroke="none" stroke-width="1.3" /><path d="M1713 320.5 C1716 321 1717.5 323.1 1719.5 323.1 C1723 323.1 1726 319.8 1730 319.8 C1733 319.8 1734.5 320.3 1736 320.5 V332.6 H1713 Z" fill="#9db2c9" stroke="#fbfbfb" stroke-width="0.8" /><path d="M1713 325.7 C1716 326 1717.5 327.7 1719.5 327.7 C1723 327.7 1726 324.4 1730 324.4 C1733 324.4 1734.5 325.4 1736 325.7 V332.6 H1713 Z" fill="#e8883c" stroke="#fbe9da" stroke-width="0.9" /><path d="M1712.2 309.3 V332.9 H1736" fill="none" stroke="#8d8b89" stroke-width="1.15" /><path d="M1753 317 L1757.5 313.5 L1762 318.5 L1767 312.6 L1772.5 318 L1777 313.6 L1779.6 316 V334.4 H1753 Z" fill="#ebc464" stroke="none" stroke-width="1.3" /><path d="M1753 322.5 L1757 326 L1763.5 319.6 L1769.5 326.5 L1775.5 320.5 L1779.6 324 V334.4 H1753 Z" fill="#5d8ac2" stroke="none" stroke-width="1.3" /><path d="M1761.8 321.2 L1763.5 319.6 L1765.2 321.4 Z" fill="#5c9a6c" stroke="none" stroke-width="1.3" /><path d="M1753 327 L1757.5 330.5 L1763.5 327.6 L1769.5 331 L1775.5 327.6 L1779.6 329.5 V334.4 H1753 Z" fill="#dba272" stroke="none" stroke-width="1.3" /><path d="M1753 308.6 V334.4" fill="none" stroke="#6f6d6b" stroke-width="1.5" /><rect x="1797.0" y="309.5" width="22.5" height="22.5" rx="0" fill="#fbfbfb" stroke="none" stroke-width="0" /><rect x="1801.2" y="313.3" width="5.5" height="11.1" rx="0" fill="#ebbf98" stroke="none" stroke-width="0" /><rect x="1801.2" y="324.4" width="5.5" height="7.6" rx="0" fill="#b3b1af" stroke="none" stroke-width="0" /><rect x="1809.7" y="318.9" width="5.2" height="6.3" rx="0" fill="#ebbf98" stroke="none" stroke-width="0" /><rect x="1809.7" y="325.2" width="5.2" height="6.8" rx="0" fill="#b3b1af" stroke="none" stroke-width="0" /><path d="M1797 327 L1804.1 321.8 L1811.7 325.1 L1818.9 320.2" fill="none" stroke="#d9786e" stroke-width="1.2" /><path d="M1796.2 308.7 V332.6 H1819.5 V308.7" fill="none" stroke="#8d8b89" stroke-width="1.15" /><rect x="1839.0" y="309.5" width="23.0" height="22.5" rx="0" fill="#fbfbfb" stroke="none" stroke-width="0" /><rect x="1840.5" y="320.5" width="4.0" height="11.5" rx="0" fill="#ecc9a4" stroke="none" stroke-width="0" /><rect x="1844.5" y="311.0" width="3.6" height="21.0" rx="0" fill="#7b99c2" stroke="none" stroke-width="0" /><rect x="1851.7" y="314.6" width="3.9" height="17.4" rx="0" fill="#e6d0b2" stroke="none" stroke-width="0" /><rect x="1856.0" y="319.2" width="3.6" height="12.8" rx="0" fill="#8d8fc2" stroke="none" stroke-width="0" /><path d="M1839 327 L1846.4 321.1 L1853 325.7 L1861 320.5" fill="none" stroke="#e8a070" stroke-width="1.2" /><path d="M1838.2 308.7 V332.6 H1861.9 V308.7" fill="none" stroke="#8d8b89" stroke-width="1.15" /><rect x="1881.0" y="311.0" width="23.0" height="21.0" rx="0" fill="#fbfbfb" stroke="none" stroke-width="0" /><rect x="1887.1" y="315.2" width="3.0" height="16.8" rx="0" fill="#bba99d" stroke="none" stroke-width="0" /><rect x="1895.6" y="312.6" width="3.3" height="19.4" rx="0" fill="#b9a79b" stroke="none" stroke-width="0" /><rect x="1900.9" y="313.4" width="2.3" height="18.6" rx="0" fill="#dfd3c5" stroke="none" stroke-width="0" /><rect x="1891.6" y="316.5" width="2.6" height="15.5" rx="0" fill="#e3d9cd" stroke="none" stroke-width="0" /><path d="M1881.5 323 H1887 L1891 327.4 H1895 L1899 321.6 H1903.4 V326.6 H1899.6 L1895.4 330.6 H1890.6 L1887 327.4 H1881.5 Z" fill="#8c84c4" stroke="none" stroke-width="1.3" opacity="0.85"/><rect x="1890.2" y="321.6" width="5.2" height="5.6" rx="0" fill="#f3ecb4" stroke="none" stroke-width="0" /><path d="M1880.2 309.5 V332.6 H1903.8" fill="none" stroke="#8d8b89" stroke-width="1.15" /><rect x="1671.0" y="345.5" width="23.5" height="22.5" rx="0" fill="#fbfbfb" stroke="none" stroke-width="0" /><rect x="1674.2" y="351.5" width="1.7" height="16.5" rx="0" fill="#c3c1bf" stroke="none" stroke-width="0" /><rect x="1689.9" y="347.5" width="1.4" height="20.5" rx="0" fill="#c3c1bf" stroke="none" stroke-width="0" /><path d="M1678.2 351.8 L1680.4 357.8 L1682.4 363" fill="none" stroke="#d0607e" stroke-width="1.7" /><rect x="1679.2" y="352.0" width="1.2" height="6.0" rx="0" fill="#d58aa0" stroke="none" stroke-width="0" /><rect x="1681.6" y="357.4" width="1.2" height="5.8" rx="0" fill="#d0607e" stroke="none" stroke-width="0" /><rect x="1686.0" y="347.5" width="1.4" height="15.8" rx="0" fill="#4b8a6a" stroke="none" stroke-width="0" /><rect x="1683.6" y="361.8" width="2.4" height="1.5" rx="0" fill="#6b7a7a" stroke="none" stroke-width="0" /><path d="M1670.2 345.2 V368.5 H1694.5" fill="none" stroke="#8d8b89" stroke-width="1.15" /><rect x="1712.2" y="348.2" width="23.7" height="3.6" rx="0" fill="#7c9ecb" stroke="none" stroke-width="0" /><rect x="1714.9" y="354.1" width="18.3" height="3.3" rx="1.5" fill="#e3bb84" stroke="none" stroke-width="0" /><rect x="1717.5" y="359.4" width="13.1" height="3.2" rx="0" fill="#7c9ecb" stroke="none" stroke-width="0" /><rect x="1720.1" y="364.3" width="7.9" height="3.3" rx="0" fill="#7c9ecb" stroke="none" stroke-width="0" /><rect x="1755.0" y="346.0" width="23.5" height="22.0" rx="0" fill="#fbfbfb" stroke="none" stroke-width="0" /><circle cx="1759.5" cy="352.8" r="2.3" fill="#e29393"/><circle cx="1771" cy="351.2" r="2.3" fill="#7c9c8c"/><circle cx="1766.7" cy="357.7" r="2.3" fill="#dbbb85"/><circle cx="1776.5" cy="358" r="2.3" fill="#4b6b99"/><circle cx="1758.5" cy="360.7" r="2.3" fill="#3c5c8a"/><circle cx="1772.3" cy="363" r="2.3" fill="#6c7c7a"/><path d="M1754.2 345.5 V368.5 H1778.5" fill="none" stroke="#8d8b89" stroke-width="1.15" /><path d="M1808.6 356.9 L1808.60 345.70 A11.2 11.2 0 1 1 1800.28 364.39 Z" fill="#7daada" stroke="none" stroke-width="1.3" /><path d="M1806.9 357.3 L1798.70 363.70 A10.4 10.4 0 0 1 1797.72 352.42 Z" fill="#f2b3a3" stroke="none" stroke-width="1.3" /><path d="M1807.2 356 L1798.02 350.70 A10.6 10.6 0 0 1 1806.83 345.41 Z" fill="#f1e2d3" stroke="none" stroke-width="1.3" /><path d="M1854.53 346.18 A12.1 12.1 0 0 1 1861.84 354.88 L1856.46 356.03 A6.6 6.6 0 0 0 1852.47 351.28 Z" fill="#ead9b3" stroke="none" stroke-width="1.3" /><path d="M1861.98 355.72 A12.1 12.1 0 0 1 1856.41 367.66 L1853.50 363.00 A6.6 6.6 0 0 0 1856.54 356.48 Z" fill="#3b69a9" stroke="none" stroke-width="1.3" /><path d="M1855.68 368.08 A12.1 12.1 0 0 1 1839.74 363.81 L1844.40 360.90 A6.6 6.6 0 0 0 1853.10 363.23 Z" fill="#3b69a9" stroke="none" stroke-width="1.3" /><path d="M1839.32 363.08 A12.1 12.1 0 0 1 1841.90 348.41 L1845.58 352.50 A6.6 6.6 0 0 0 1844.17 360.50 Z" fill="#4a79b1" stroke="none" stroke-width="1.3" /><path d="M1842.55 347.87 A12.1 12.1 0 0 1 1853.74 345.89 L1852.04 351.12 A6.6 6.6 0 0 0 1845.94 352.20 Z" fill="#8caaca" stroke="none" stroke-width="1.3" /><rect x="1880.2" y="345.9" width="23.6" height="23.0" rx="0" fill="#fdfdfd" stroke="#7b7977" stroke-width="1.4" /><rect x="1885.8" y="346.6" width="17.3" height="12.8" rx="0" fill="#cacde9" stroke="none" stroke-width="0" /><path d="M1885.8 345.9 V359.4 M1880.2 359.4 H1903.8 M1891.4 359.4 V368.9 M1885.8 352.8 H1898.3 M1898.3 345.9 V359.4 M1880.2 354.1 H1885.8" fill="none" stroke="#7b7977" stroke-width="1.2" /><circle cx="1681.6" cy="392.8" r="11" fill="#ecf6f9" stroke="#5d7d83" stroke-width="1.1"/><path d="M1670.6 392.8 H1692.6 M1672.4 387.2 H1690.8 M1672.4 398.4 H1690.8" fill="none" stroke="#5d7d83" stroke-width="0.8" /><ellipse cx="1681.6" cy="392.8" rx="5" ry="11" fill="none" stroke="#5d7d83" stroke-width="0.8"/><path d="M1681.6 381.8 V403.8" fill="none" stroke="#5d7d83" stroke-width="0.8" /><path d="M1712.4 384 H1730 V386.6 H1712.4 Z" fill="#c9c5bd" stroke="none" stroke-width="1.3" /><path d="M1731.5 383.4 H1736.4 V393.5 L1734 396 H1731.5 Z" fill="#ecd29c" stroke="none" stroke-width="1.3" /><path d="M1712.4 388 H1721.5 V394.6 H1712.4 Z" fill="#7c8fc2" stroke="none" stroke-width="1.3" /><path d="M1723 388 H1730.4 V394.6 H1723 Z" fill="#a8c4a6" stroke="none" stroke-width="1.3" /><path d="M1712.6 396 H1722 L1724 403.5 L1719.5 404 L1713.5 399.5 Z" fill="#bcc0d6" stroke="none" stroke-width="1.3" /><path d="M1724 396 H1733.5 L1731.5 401.5 L1727.6 402.5 L1725.5 403.8 Z" fill="#7d95cf" stroke="none" stroke-width="1.3" /><path d="M1752.8 382.4 H1776.5 L1778.4 385 V396.5 L1775.5 403 L1770 405.4 L1761.5 404.6 L1754.5 400.2 L1752.8 394 Z" fill="#4b79b1" stroke="none" stroke-width="1.3" /><path d="M1752.8 382.4 H1774 V385.4 H1757.5 V389.6 H1752.8 Z" fill="#1f3b62" stroke="none" stroke-width="1.3" /><path d="M1754 390.4 H1764 V396.4 H1754 Z M1775.4 383.4 H1778 V396 H1775.4 Z" fill="#1f3b62" stroke="none" stroke-width="1.3" /><path d="M1765.4 386.4 H1774 V395.4 H1765.4 Z M1754 397.6 H1766 V402.8 L1760.5 403.6 L1754.8 399.8 Z" fill="#8cb2da" stroke="none" stroke-width="1.3" /><path d="M1767.6 396.8 H1776.4 L1774.6 402.6 L1769.5 404.4 H1767.6 Z" fill="#2d5a94" stroke="none" stroke-width="1.3" /><path d="M1795.30 399.90 A12.4 12.4 0 0 1 1815.33 390.13 L1812.13 394.23 A7.2 7.2 0 0 0 1800.50 399.90 Z" fill="#e9ca93" stroke="none" stroke-width="1.3" /><path d="M1815.33 390.13 A12.4 12.4 0 0 1 1820.10 399.90 L1814.90 399.90 A7.2 7.2 0 0 0 1812.13 394.23 Z" fill="#5b9179" stroke="none" stroke-width="1.3" /><path d="M1805.2 397.4 L1813.4 392.8 L1807 399.8 Z" fill="#3a3836" stroke="#3a3836" stroke-width="0.8" stroke-linejoin="round"/><rect x="1838.2" y="384.6" width="23.7" height="15.4" rx="0" fill="#fdfdfd" stroke="#9b9997" stroke-width="1.3" /><text x="1850" y="394.6" text-anchor="middle" font-family="Liberation Sans, sans-serif" font-size="11.5" fill="#9d9b99" textLength="17" lengthAdjust="spacingAndGlyphs">123</text><rect x="1841.8" y="396.9" width="16.4" height="1.5" rx="0" fill="#6e6c6a" stroke="none" stroke-width="0" /><rect x="1880.2" y="382.0" width="23.6" height="22.6" rx="0" fill="#fdfdfd" stroke="#6c6a68" stroke-width="1.5" /><rect x="1882.8" y="384.6" width="3.3" height="17.4" rx="0" fill="#a9a7a5" stroke="none" stroke-width="0" /><rect x="1888.8" y="384.6" width="8.5" height="2.0" rx="0" fill="#7c9ab2" stroke="none" stroke-width="0" /><rect x="1888.8" y="388.2" width="5.2" height="0.9" rx="0" fill="#b5c3cf" stroke="none" stroke-width="0" /><rect x="1888.8" y="392.2" width="8.5" height="2.0" rx="0" fill="#7c9ab2" stroke="none" stroke-width="0" /><rect x="1888.8" y="396.0" width="5.2" height="0.9" rx="0" fill="#b5c3cf" stroke="none" stroke-width="0" /><rect x="1670.6" y="420.2" width="23.6" height="16.7" rx="0" fill="#fdfdfd" stroke="#a3a19f" stroke-width="1.3" /><path d="M1678.1 425.1 L1681.5 429.4 H1674.7 Z" fill="#4b8b69" stroke="none" stroke-width="1.3" /><path d="M1683 424.1 H1690 L1686.5 428.5 Z" fill="#a9516a" stroke="none" stroke-width="1.3" /><rect x="1673.8" y="433.2" width="16.4" height="1.6" rx="0" fill="#7b7977" stroke="none" stroke-width="0" /><rect x="1712.2" y="417.9" width="22.7" height="22.6" rx="0" fill="#fdfdfd" stroke="#a3a19f" stroke-width="1.2" /><rect x="1712.2" y="417.6" width="22.7" height="3.3" rx="0" fill="#2b5b9b" stroke="none" stroke-width="0" /><rect x="1716.2" y="423.2" width="3.6" height="3.2" rx="0" fill="#bab8b6" stroke="none" stroke-width="0" /><rect x="1716.2" y="428.4" width="3.6" height="3.0" rx="0" fill="#e9c961" stroke="none" stroke-width="0" /><rect x="1716.2" y="433.3" width="3.6" height="3.6" rx="0" fill="#dbd9d7" stroke="none" stroke-width="0" /><path d="M1724 429.4 H1737.8 L1732.3 436.3 V442.2 H1729.5 V436.3 Z" fill="#6c6a68" stroke="none" stroke-width="1.3" /><rect x="1755.5" y="417.6" width="20.7" height="22.6" rx="0" fill="#fdfdfd" stroke="#a3a19f" stroke-width="1.1" /><rect x="1755.5" y="417.6" width="20.7" height="3.3" rx="0" fill="#3b69a9" stroke="none" stroke-width="0" /><path d="M1762.4 420.9 V440.2 M1769.5 420.9 V440.2 M1755.5 427.4 H1776.2 M1755.5 434 H1776.2" fill="none" stroke="#8b8987" stroke-width="1" /><rect x="1797.2" y="417.6" width="21.7" height="22.9" rx="0" fill="#fdfdfd" stroke="#a9aabb" stroke-width="1.1" /><rect x="1811.7" y="420.5" width="6.7" height="13.2" rx="0" fill="#dfe2f1" stroke="none" stroke-width="0" /><rect x="1797.7" y="433.7" width="20.7" height="6.3" rx="0" fill="#c5c8db" stroke="none" stroke-width="0" /><rect x="1797.2" y="417.6" width="21.7" height="2.9" rx="0" fill="#4b5b89" stroke="none" stroke-width="0" /><path d="M1804.8 422.6 V432.6 M1800 427.4 H1810.6" fill="none" stroke="#d8c9a6" stroke-width="1" /><path d="M1811.7 420.5 V440.5 M1797.2 433.7 H1818.9 M1804.8 433.7 V440.5 M1797.2 437 H1818.9" fill="none" stroke="#a9aabb" stroke-width="0.8" /><text x="1841.2" y="440.9" font-family="Liberation Sans, sans-serif" font-size="33" font-weight="700" fill="#7d9ec2" textLength="18.2" lengthAdjust="spacingAndGlyphs">R</text><text x="1880" y="435.7" font-family="Liberation Sans, sans-serif" font-size="22" font-weight="700" fill="#7d9ec2" textLength="24" lengthAdjust="spacingAndGlyphs">Py</text><path d="M1668.9 452.4 V475.3 H1685" fill="none" stroke="#8d8b89" stroke-width="1.4" /><path d="M1669 455.3 H1688.4 M1669 462 H1678.6 M1669 468.6 H1672.6" fill="none" stroke="#8d8b89" stroke-width="1.2" /><rect x="1688.0" y="453.3" width="4.0" height="4.0" rx="0" fill="#3b7b91" stroke="none" stroke-width="0" /><circle cx="1680.1" cy="462" r="2.3" fill="#5c5a58"/><circle cx="1674.2" cy="468.6" r="2.5" fill="#5c5a58"/><circle cx="1689.9" cy="468.6" r="5.6" fill="#f7cf72"/><rect x="1687.3" y="472.8" width="5.2" height="4.0" rx="1" fill="#f3dca8" stroke="none" stroke-width="0" /><path d="M1719.8 462.2 H1722 M1722 455.4 V469 M1722 455.4 H1724.4 M1722 462.2 H1724.4 M1722 469 H1724.4" fill="none" stroke="#b9d9f5" stroke-width="1.2" /><rect x="1712.2" y="460.6" width="7.6" height="3.2" rx="0" fill="#3b69a9" stroke="none" stroke-width="0" /><rect x="1724.4" y="453.7" width="9.2" height="3.3" rx="0" fill="#3b69a9" stroke="none" stroke-width="0" /><rect x="1724.4" y="460.6" width="9.2" height="3.2" rx="0" fill="#3b69a9" stroke="none" stroke-width="0" /><rect x="1724.4" y="467.4" width="4.0" height="3.0" rx="0" fill="#4b4b5b" stroke="none" stroke-width="0" /><circle cx="1732.9" cy="469.4" r="5" fill="#f7cf72"/><rect x="1730.3" y="473.0" width="5.2" height="4.0" rx="1" fill="#f3dca8" stroke="none" stroke-width="0" /><rect x="1751.2" y="449.6" width="30.0" height="33.0" rx="0" fill="#cfcfd3" stroke="#4a4846" stroke-width="2" /><path d="M1755 455.4 H1776.8 V467.2 H1766 L1761.2 471 V467.2 H1755 Z" fill="#d9dbe1" stroke="#5c6a78" stroke-width="1.3" stroke-linejoin="round"/><path d="M1766 467.2 L1761.2 471 V467.2" fill="none" stroke="#3b7b91" stroke-width="1.2" /><circle cx="1774.9" cy="469.4" r="5" fill="#f7cf72"/><rect x="1772.3" y="473.0" width="5.2" height="4.0" rx="1" fill="#f3dca8" stroke="none" stroke-width="0" /><circle cx="1808" cy="465.1" r="11.6" fill="#1f7bc9" stroke="#a3d3cb" stroke-width="1.4"/><path d="M1800 458 C1803 455 1807 455.5 1806 459 C1805 462 1801 463 1800.4 466 C1799 468 1797.6 466 1797.4 463 Z M1812 456 C1816 457 1818.6 461 1818.8 465 C1817 467 1815 464 1812.6 462 C1810.6 460 1810.4 457.4 1812 456 Z M1803 470 C1806 468.6 1810 470 1812 472.6 C1810 475.6 1806 476 1803.4 474.4 Z" fill="#3c9b61" stroke="none" stroke-width="1.3" /><path d="M1798 461 L1815 455.5 M1797 467 L1818.6 460 M1799 473 L1819 466.6 M1804 476 L1816.6 472" fill="none" stroke="#56b0ee" stroke-width="0.8" /><rect x="1834.9" y="450.4" width="29.6" height="29.2" rx="0" fill="#742774" stroke="none" stroke-width="0" /><path d="M1842 469.4 V461 Q1842 458.8 1844.2 458.8 H1855.6 Q1857.8 458.8 1857.8 461 V469.4" fill="none" stroke="#f1a3ea" stroke-width="1.6" /><path d="M1844.2 467.8 L1847.4 464.6 L1850.35 467.8 L1853.3 464.6 L1856.5 467.8 L1853.3 471 L1850.35 467.8 L1847.4 471 Z" fill="#f8d6f4" stroke="none" stroke-width="1.3" /><circle cx="1847.4" cy="467.8" r="1" fill="#742774"/><circle cx="1853.3" cy="467.8" r="1" fill="#742774"/><circle cx="1883" cy="463" r="1.6" fill="#1b1a19"/><circle cx="1891.9" cy="463" r="1.6" fill="#1b1a19"/><circle cx="1900.9" cy="463" r="1.6" fill="#1b1a19"/><circle cx="1680.4" cy="519.2" r="8" fill="#f6fbfc" stroke="#4fa8c3" stroke-width="1.9"/><path d="M1686.4 525.4 L1693 531.6" fill="none" stroke="#4fa8c3" stroke-width="2.4" stroke-linecap="round"/><rect x="1714.0" y="514.4" width="23.0" height="16.6" rx="3" fill="#fafafa" stroke="none" stroke-width="0" /><text x="1719.6" y="528.4" font-family="Liberation Sans, sans-serif" font-size="14.5" font-weight="700" fill="#5b6bbf" textLength="12" lengthAdjust="spacingAndGlyphs">w</text><rect x="1752.8" y="510.6" width="12.2" height="19.4" rx="0" fill="#7d7b79" stroke="none" stroke-width="0" /><rect x="1768.0" y="510.6" width="12.2" height="19.4" rx="0" fill="#7d7b79" stroke="none" stroke-width="0" /><rect x="1754.6" y="517.4" width="8.6" height="1.4" rx="0" fill="#4e4c4a" stroke="none" stroke-width="0" /><rect x="1754.6" y="521.4" width="8.6" height="1.4" rx="0" fill="#4e4c4a" stroke="none" stroke-width="0" /><rect x="1754.6" y="512.4" width="8.6" height="2.6" rx="0" fill="#9d9b99" stroke="none" stroke-width="0" /><rect x="1769.8" y="517.4" width="8.6" height="1.4" rx="0" fill="#4e4c4a" stroke="none" stroke-width="0" /><rect x="1769.8" y="521.4" width="8.6" height="1.4" rx="0" fill="#4e4c4a" stroke="none" stroke-width="0" /><rect x="1769.8" y="512.4" width="8.6" height="2.6" rx="0" fill="#9d9b99" stroke="none" stroke-width="0" /></svg>
<span style="font-size:21px;color:#3b3a39;top:17.22px;left:34px;transform:scaleX(0.8864);z-index:7;">File</span>
<span style="font-size:21px;color:#252423;top:17.22px;left:121px;transform:scaleX(1.0173);z-index:7;-webkit-text-stroke:0.75px #252423;">Home</span>
<span style="font-size:21px;color:#3b3a39;top:17.22px;left:224px;transform:scaleX(0.9899);z-index:7;">Insert</span>
<span style="font-size:21px;color:#3b3a39;top:17.22px;left:324px;transform:scaleX(1.0324);z-index:7;">Modeling</span>
<span style="font-size:21px;color:#3b3a39;top:17.22px;left:460px;transform:scaleX(0.9526);z-index:7;">View</span>
<span style="font-size:21px;color:#3b3a39;top:17.22px;left:551px;transform:scaleX(0.9722);z-index:7;">Help</span>
<span style="font-size:21px;color:#a89b60;top:17.22px;left:641px;transform:scaleX(0.9772);z-index:7;">Format</span>
<span style="font-size:21px;color:#a89b60;top:17.22px;left:755px;z-index:7;">Data / Drill</span>
<span style="font-size:18px;color:#a6a4a2;top:115.76px;left:84px;transform:scaleX(0.869);z-index:7;">Paste</span>
<span style="font-size:18px;color:#3b3a39;top:67.76px;left:170px;transform:scaleX(0.9637);z-index:7;">Cut</span>
<span style="font-size:18px;color:#3b3a39;top:103.76px;left:170px;transform:scaleX(0.9755);z-index:7;">Copy</span>
<span style="font-size:18px;color:#3b3a39;top:139.76px;left:170px;z-index:7;">Format painter</span>
<span style="font-size:18px;color:#3b3a39;top:115.76px;left:332px;transform:scaleX(0.9305);z-index:7;">Get</span>
<span style="font-size:18px;color:#3b3a39;top:139.76px;left:319px;transform:scaleX(0.9416);z-index:7;">data</span>
<span style="font-size:18px;color:#3b3a39;top:115.76px;left:386px;transform:scaleX(0.8633);z-index:7;">Excel</span>
<span style="font-size:18px;color:#3b3a39;top:115.76px;left:439px;transform:scaleX(0.9174);z-index:7;">Power BI</span>
<span style="font-size:18px;color:#3b3a39;top:139.76px;left:440px;transform:scaleX(0.9405);z-index:7;">datasets</span>
<span style="font-size:18px;color:#3b3a39;top:115.76px;left:524px;transform:scaleX(0.8604);z-index:7;">SQL</span>
<span style="font-size:18px;color:#3b3a39;top:139.76px;left:515px;transform:scaleX(0.9431);z-index:7;">Server</span>
<span style="font-size:18px;color:#3b3a39;top:115.76px;left:580px;transform:scaleX(0.9296);z-index:7;">Enter</span>
<span style="font-size:18px;color:#3b3a39;top:139.76px;left:583px;transform:scaleX(0.9416);z-index:7;">data</span>
<span style="font-size:18px;color:#3b3a39;top:115.76px;left:645px;transform:scaleX(0.9291);z-index:7;">Recent</span>
<span style="font-size:18px;color:#3b3a39;top:139.76px;left:633px;transform:scaleX(0.936);z-index:7;">sources</span>
<span style="font-size:18px;color:#3b3a39;top:115.76px;left:742px;transform:scaleX(0.9589);z-index:7;">Transform</span>
<span style="font-size:18px;color:#3b3a39;top:139.76px;left:755px;transform:scaleX(0.9701);z-index:7;">data</span>
<span style="font-size:18px;color:#3b3a39;top:115.76px;left:827px;transform:scaleX(0.9202);z-index:7;">Refresh</span>
<span style="font-size:18px;color:#3b3a39;top:115.76px;left:926px;transform:scaleX(0.9718);z-index:7;">New</span>
<span style="font-size:18px;color:#3b3a39;top:139.76px;left:922px;transform:scaleX(0.9559);z-index:7;">visual</span>
<span style="font-size:18px;color:#3b3a39;top:115.76px;left:989px;transform:scaleX(0.9087);z-index:7;">Text</span>
<span style="font-size:18px;color:#3b3a39;top:139.76px;left:990px;transform:scaleX(0.9645);z-index:7;">box</span>
<span style="font-size:18px;color:#3b3a39;top:115.76px;left:1052px;transform:scaleX(0.9752);z-index:7;">More</span>
<span style="font-size:18px;color:#3b3a39;top:139.76px;left:1037px;transform:scaleX(0.9267);z-index:7;">visuals</span>
<span style="font-size:18px;color:#3b3a39;top:115.76px;left:1154px;transform:scaleX(0.9718);z-index:7;">New</span>
<span style="font-size:18px;color:#3b3a39;top:139.76px;left:1138px;transform:scaleX(0.9567);z-index:7;">measure</span>
<span style="font-size:18px;color:#3b3a39;top:115.76px;left:1223px;transform:scaleX(0.9562);z-index:7;">Quick</span>
<span style="font-size:18px;color:#3b3a39;top:139.76px;left:1212px;transform:scaleX(0.9424);z-index:7;">measure</span>
<span style="font-size:18px;color:#3b3a39;top:115.76px;left:1311px;transform:scaleX(0.9484);z-index:7;">Publish</span>
<span style="font-size:15.5px;color:#484644;top:174.88px;left:13px;transform:scaleX(0.9444);z-index:7;">Undo</span>
<span style="font-size:15.5px;color:#484644;top:174.88px;left:150px;transform:scaleX(0.9644);z-index:7;">Clipboard</span>
<span style="font-size:15.5px;color:#484644;top:174.88px;left:499px;transform:scaleX(0.916);z-index:7;">Data</span>
<span style="font-size:15.5px;color:#484644;top:174.88px;left:788px;transform:scaleX(0.9211);z-index:7;">Queries</span>
<span style="font-size:15.5px;color:#484644;top:174.88px;left:993px;transform:scaleX(0.9545);z-index:7;">Insert</span>
<span style="font-size:15.5px;color:#484644;top:174.88px;left:1169px;transform:scaleX(0.9356);z-index:7;">Calculations</span>
<span style="font-size:15.5px;color:#484644;top:174.88px;left:1320px;transform:scaleX(0.8943);z-index:7;">Share</span>
<span style="font-size:24.3px;color:transparent;font-weight:700;top:240.63px;left:152.5px;transform:scaleX(0.8999);background:linear-gradient(90deg,#1b1862 0%,#1b2a78 28%,#1d4fa6 55%,#2a7dd6 78%,#2f8fe6 100%);-webkit-background-clip:text;background-clip:text;-webkit-text-fill-color:transparent;">Ask a question with Q&amp;A</span>
<span style="font-size:24.3px;color:transparent;font-weight:700;top:242.43px;left:998px;transform:scaleX(0.9189);background:linear-gradient(90deg,#17115c 0%,#3a1a6c 30%,#7a2c88 52%,#a83a96 70%,#c956a8 100%);-webkit-background-clip:text;background-clip:text;-webkit-text-fill-color:transparent;">Number of games by publisher</span>
<span style="font-size:24.3px;color:transparent;font-weight:700;top:671.43px;left:998.7px;transform:scaleX(0.9427);background:linear-gradient(90deg,#17115c 0%,#3c2a66 25%,#7a5070 48%,#b87878 62%,#e89c7e 80%,#f2aa86 100%);-webkit-background-clip:text;background-clip:text;-webkit-text-fill-color:transparent;">Sentiment by platform</span>
<span style="font-size:16.2px;color:#323130;top:336.29px;left:161.2px;transform:scaleX(0.988);">show total global sales by genre</span>
<span style="font-size:14.4px;color:#252423;font-weight:700;top:414.31px;right:1647.5px;">Action</span>
<span style="font-size:14.4px;color:#666462;top:440.41px;right:1647.5px;">Sports</span>
<span style="font-size:14.4px;color:#666462;top:466.51px;right:1647.5px;">Shooter</span>
<span style="font-size:14.4px;color:#666462;top:492.61px;right:1647.5px;">Role-Playing</span>
<span style="font-size:14.4px;color:#666462;top:518.71px;right:1647.5px;">Platform</span>
<span style="font-size:14.4px;color:#666462;top:544.81px;right:1647.5px;">Misc</span>
<span style="font-size:14.4px;color:#666462;top:570.91px;right:1647.5px;">Racing</span>
<span style="font-size:14.4px;color:#666462;top:597.01px;right:1647.5px;">Fighting</span>
<span style="font-size:14.4px;color:#666462;top:623.11px;right:1647.5px;">Simulation</span>
<span style="font-size:14.4px;color:#666462;top:649.21px;right:1647.5px;">Adventure</span>
<span style="font-size:14.4px;color:#666462;top:675.31px;right:1647.5px;">Puzzle</span>
<span style="font-size:14.4px;color:#666462;top:701.41px;right:1647.5px;">Strategy</span>
<span style="font-size:14.4px;color:#666462;top:727.51px;right:1647.5px;">Action-Adventure</span>
<span style="font-size:14.4px;color:#666462;top:753.61px;right:1647.5px;">Music</span>
<span style="font-size:14.4px;color:#666462;top:805.81px;right:1647.5px;">Sandbox</span>
<span style="font-size:14.4px;color:#666462;top:831.91px;right:1647.5px;">Party</span>
<span style="font-size:14.4px;color:#666462;top:858.01px;right:1647.5px;">MMO</span>
<span style="font-size:14.4px;color:#666462;top:884.11px;right:1647.5px;">Visual Novel</span>
<span style="font-size:14.4px;color:#666462;top:910.21px;right:1647.5px;">Board Game</span>
<span style="font-size:14px;color:#666462;top:945.15px;left:283.5px;transform:translateX(-50%);">0</span>
<span style="font-size:14px;color:#666462;top:945.15px;left:425.2px;transform:translateX(-50%);">500</span>
<span style="font-size:14px;color:#666462;top:945.15px;left:567px;transform:translateX(-50%);">1,000</span>
<span style="font-size:14px;color:#666462;top:945.15px;left:708.7px;transform:translateX(-50%);">1,500</span>
<span style="font-size:14px;color:#666462;top:945.15px;left:850.5px;transform:translateX(-50%);">2,000</span>
<span style="font-size:16.5px;color:#252423;top:966.53px;left:517.5px;-webkit-text-stroke:0.35px #252423;">Global_Sales</span>
<span style="font-size:16.5px;color:#252423;transform-origin:50% 50%;transform:translate(-50%,-50%) rotate(-90deg) scaleX(0.9813);left:133px;top:670px;-webkit-text-stroke:0.35px #252423;">Genre</span>
<span style="font-size:15px;color:#7a7a7a;top:332.90px;left:1088.7px;transform:scaleX(1.0058);">64 (1.88%)</span>
<span style="font-size:15px;color:#7a7a7a;top:347.60px;left:1369px;transform:scaleX(1.0132);">213 (6.26%)</span>
<span style="font-size:15px;color:#7a7a7a;top:521.70px;left:1391.5px;">77 (2.26%)</span>
<span style="font-size:15px;color:#7a7a7a;top:580.10px;left:1130.4px;transform:scaleX(0.9935);">94 (2.76%)</span>
<span style="font-size:15px;color:#7a7a7a;top:468.70px;left:1027.2px;transform:scaleX(1.0099);">84 (2.47%)</span>
<span style="font-size:18.5px;color:#fff;top:863.74px;left:1083.85px;transform:translateX(-50%);opacity:0.92;">0.62</span>
<span style="font-size:14px;color:#605e5c;top:988.15px;left:1083.85px;transform:translateX(-50%);">PS2</span>
<span style="font-size:18.5px;color:#fff;top:868.74px;left:1178.6px;transform:translateX(-50%);opacity:0.92;">0.60</span>
<span style="font-size:14px;color:#605e5c;top:988.15px;left:1178.6px;transform:translateX(-50%);">DS</span>
<span style="font-size:18.5px;color:#fff;top:867.74px;left:1272.85px;transform:translateX(-50%);opacity:0.92;">0.60</span>
<span style="font-size:14px;color:#605e5c;top:988.15px;left:1272.85px;transform:translateX(-50%);">Wii</span>
<span style="font-size:18.5px;color:#fff;top:871.74px;left:1367.4px;transform:translateX(-50%);opacity:0.92;">0.58</span>
<span style="font-size:14px;color:#605e5c;top:988.15px;left:1367.4px;transform:translateX(-50%);">PS3</span>
<span style="font-size:18.5px;color:#fff;top:873.74px;left:1461.65px;transform:translateX(-50%);opacity:0.92;">0.57</span>
<span style="font-size:14px;color:#605e5c;top:988.15px;left:1461.65px;transform:translateX(-50%);">X360</span>
<span style="font-size:16.5px;color:#252423;top:1009.73px;left:1240.8px;transform:scaleX(1.0857);-webkit-text-stroke:0.35px #252423;">Platform</span>
<span style="font-size:16.5px;color:#252423;transform-origin:50% 50%;transform:translate(-50%,-50%) rotate(-90deg) scaleX(1.0364);left:993px;top:856px;-webkit-text-stroke:0.35px #252423;">Sentiment</span>
<span style="font-size:22.5px;color:#252423;transform-origin:50% 50%;transform:translate(-50%,-50%) rotate(90deg) scaleX(1.022);left:1630.2px;top:356.1px;-webkit-text-stroke:0.7px #252423;">Filters</span>
<span style="font-size:24.2px;color:#323130;top:217.01px;left:1673.3px;-webkit-text-stroke:0.45px #323130;">Visualizations</span>
<span style="font-size:19px;color:#323130;top:565.42px;left:1715.2px;transform:scaleX(0.9418);">Search</span>
<span style="font-size:18.6px;color:#323130;top:622.56px;left:1694.6px;transform:scaleX(0.9674);">Question field</span>
<span style="font-size:18.6px;color:#323130;top:676.61px;left:1694.6px;transform:scaleX(0.9277);">Suggestio...</span>
<span style="font-size:18.6px;color:#323130;top:676.61px;left:1808.7px;transform:scaleX(0.9028);">On</span>
<span style="font-size:18.6px;color:#323130;top:730.66px;left:1694.6px;transform:scaleX(0.9495);">Title</span>
<span style="font-size:18.6px;color:#323130;top:730.66px;left:1807.8px;transform:scaleX(0.9931);">Off</span>
<span style="font-size:18.6px;color:#323130;top:784.71px;left:1694.6px;transform:scaleX(0.9249);">Backgrou...</span>
<span style="font-size:18.6px;color:#323130;top:784.71px;left:1808.7px;transform:scaleX(0.9028);">On</span>
<span style="font-size:18.6px;color:#323130;top:838.76px;left:1694.6px;transform:scaleX(0.8986);">Lock aspe...</span>
<span style="font-size:18.6px;color:#323130;top:838.76px;left:1807.8px;transform:scaleX(0.9931);">Off</span>
<span style="font-size:18.6px;color:#323130;top:892.81px;left:1694.6px;transform:scaleX(0.9024);">General</span>
<span style="font-size:18.6px;color:#323130;top:946.86px;left:1694.6px;transform:scaleX(0.9317);">Border</span>
<span style="font-size:18.6px;color:#323130;top:946.86px;left:1807.8px;transform:scaleX(0.9931);">Off</span>
<span style="font-size:18.6px;color:#323130;top:1000.91px;left:1694.6px;transform:scaleX(0.9088);">Visual he...</span>
<span style="font-size:18.6px;color:#323130;top:1000.91px;left:1808.7px;transform:scaleX(0.9028);">On</span>
</body></html>
